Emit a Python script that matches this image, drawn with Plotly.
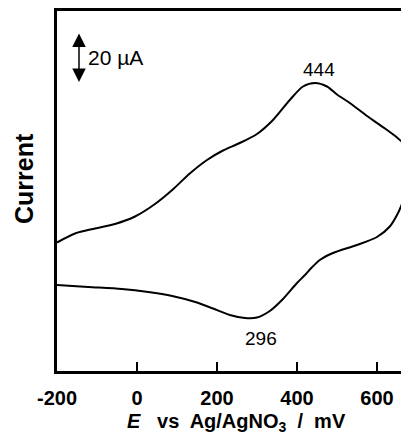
import plotly.graph_objects as go

# Cyclic voltammogram (E in mV vs Ag/AgNO3, current in uA, arbitrary zero)
E_forward = [-200, -155, -105, -55, -5, 45, 88, 132, 175, 215, 257, 300, 340,
             382, 415, 445, 475, 500, 532, 575, 620, 650, 667, 677]
I_forward = [17.0, 20.6, 22.6, 24.4, 27.4, 32.4, 38.0, 44.6, 50.0, 53.8, 56.8,
             60.4, 66.0, 74.0, 79.4, 80.8, 79.4, 76.2, 72.8, 67.6, 62.6, 59.0, 56.4, 52.5]
E_reverse = [680, 678, 672, 665, 650, 632, 600, 550, 490, 457, 437, 420, 400, 365,
             332, 300, 270, 232, 190, 150, 88, 28, -38, -122, -200]
I_reverse = [47.0, 41.0, 37.0, 33.5, 28.0, 23.4, 19.2, 16.0, 12.8, 10.0, 7.0, 4.0,
             0.8, -5.6, -10.4, -13.0, -13.2, -12.0, -9.4, -7.0, -4.4, -2.8, -1.6, -0.8, 0.0]

peak_labels = ["444", "296"]
x_ticks = [-200, 0, 200, 400, 600]

E = E_forward + E_reverse
I = I_forward + I_reverse

FONT = "Liberation Sans, Arial, Helvetica, sans-serif"

fig = go.Figure()
fig.add_trace(go.Scatter(x=E, y=I, mode="lines",
                         line=dict(color="black", width=2, shape="spline", smoothing=0.8),
                         hoverinfo="skip", showlegend=False))

annotations = [
    dict(x=455, y=86.4, xref="x", yref="y", text=peak_labels[0], showarrow=False,
         font=dict(family=FONT, size=19, color="black"), xanchor="center", yanchor="middle"),
    dict(x=310, y=-21.2, xref="x", yref="y", text=peak_labels[1], showarrow=False,
         font=dict(family=FONT, size=19, color="black"), xanchor="center", yanchor="middle"),
    # scale bar: 20 uA double arrow
    dict(x=-145, y=81.2, ax=-145, ay=101.2, xref="x", yref="y", axref="x", ayref="y",
         text="", showarrow=True, arrowhead=2, arrowside="end+start", arrowsize=1.8,
         arrowwidth=1.5, arrowcolor="black", standoff=0, startstandoff=0),
    dict(x=-127, y=91.2, xref="x", yref="y", text="20 \u00b5A", showarrow=False,
         font=dict(family=FONT, size=21, color="black"), xanchor="left", yanchor="middle"),
    dict(x=-0.094, y=0.536, xref="paper", yref="paper", text="<b>Current</b>", textangle=-90,
         showarrow=False, font=dict(family=FONT, size=25, color="black"),
         xanchor="center", yanchor="middle"),
    dict(x=0.51, y=-0.142, xref="paper", yref="paper",
         text="<b><i>E</i>&nbsp;&nbsp; vs&nbsp; Ag/AgNO<sub>3</sub>&nbsp; /&nbsp; mV</b>",
         showarrow=False, font=dict(family=FONT, size=20, color="black"),
         xanchor="center", yanchor="middle"),
]

# The page body has an 8 px margin, so the figure is drawn 8 px smaller and offset.
fig.update_layout(
    width=401, height=431,
    margin=dict(l=49, r=0, t=3, b=68),
    paper_bgcolor="white", plot_bgcolor="white",
    font=dict(family=FONT, color="black"),
    annotations=annotations,
    xaxis=dict(range=[-200, 680], showgrid=False, zeroline=False,
               showline=True, linecolor="black", linewidth=2.5, mirror=True,
               ticks="inside", ticklen=9, tickwidth=2, tickcolor="black",
               tickvals=x_ticks, ticktext=["<b>%d</b>" % v for v in x_ticks],
               tickfont=dict(family=FONT, size=20, color="black"),
               ticklabelstandoff=7),
    yaxis=dict(range=[-34.4, 109.6], showgrid=False, zeroline=False,
               showline=True, linecolor="black", linewidth=2.5, mirror=False,
               showticklabels=False, ticks=""),
)

fig.write_html("out.html")
